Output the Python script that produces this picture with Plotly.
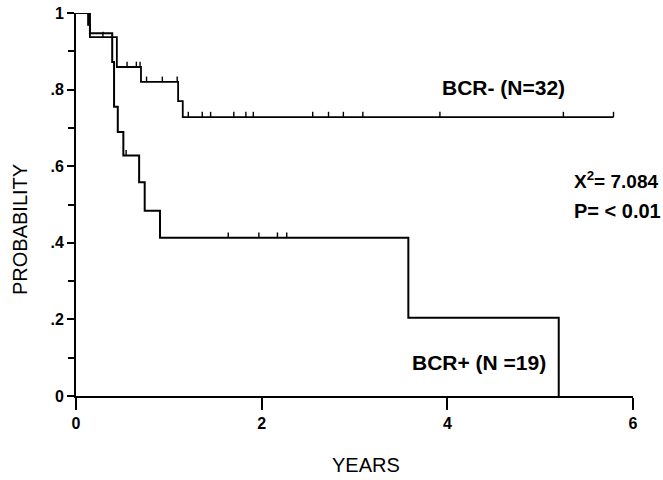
import numpy as np
import plotly.graph_objects as go

# BCR- (N=32) Kaplan-Meier step points
neg_times = [0, 0.13, 0.15, 0.44, 0.70, 1.10, 1.15, 5.79]
neg_surv = [1.0, 0.969, 0.937, 0.859, 0.82, 0.77, 0.728, 0.728]
neg_censor = [0.04, 0.12, 0.29, 0.55, 0.65, 0.69, 0.76, 0.93, 1.09, 1.21, 1.36,
              1.45, 1.70, 1.83, 1.91, 2.55, 2.72, 2.88, 3.09, 3.92, 5.25, 5.79]

# BCR+ (N=19)
pos_times = [0, 0.15, 0.39, 0.41, 0.45, 0.51, 0.68, 0.74, 0.905, 3.58, 5.20]
pos_surv = [1.0, 0.947, 0.872, 0.755, 0.689, 0.628, 0.558, 0.484, 0.413, 0.204, 0.0]
pos_censor = [0.54, 1.64, 1.97, 2.17, 2.27]

x_tickvals = [0, 2, 4, 6]
x_ticktext = ["0", "2", "4", "6"]
y_tickvals = [0, 0.2, 0.4, 0.6, 0.8, 1.0]
y_ticktext = ["0", ".2", ".4", ".6", ".8", "1"]
y_minor = [0.1, 0.3, 0.5, 0.7, 0.9]

FONT = "Liberation Sans, Arial, Helvetica, sans-serif"
TICK_H = 0.014
W, H = 663, 480
ML, MR, MT, MB = 76, 30, 13, 84


def censor_marks(times, surv, cens):
    t = np.array(times)
    xs, ys = [], []
    for c in cens:
        i = np.searchsorted(t, c, side="right") - 1
        s = surv[i]
        xs += [c, c, None]
        ys += [s, s + TICK_H, None]
    return xs, ys


fig = go.Figure()
fig.add_trace(go.Scatter(x=neg_times, y=neg_surv, mode="lines", line_shape="hv",
                         line=dict(color="black", width=1.8), showlegend=False,
                         hoverinfo="skip"))
cx, cy = censor_marks(neg_times, neg_surv, neg_censor)
fig.add_trace(go.Scatter(x=cx, y=cy, mode="lines", line=dict(color="black", width=1.4),
                         showlegend=False, hoverinfo="skip"))
fig.add_trace(go.Scatter(x=pos_times, y=pos_surv, mode="lines", line_shape="hv",
                         line=dict(color="black", width=2), showlegend=False,
                         hoverinfo="skip"))
cx, cy = censor_marks(pos_times, pos_surv, pos_censor)
fig.add_trace(go.Scatter(x=cx, y=cy, mode="lines", line=dict(color="black", width=1.4),
                         showlegend=False, hoverinfo="skip"))

fig.update_layout(
    width=W, height=H,
    margin=dict(l=ML, r=MR, t=MT, b=MB, autoexpand=False),
    plot_bgcolor="white", paper_bgcolor="white",
    font=dict(family=FONT, color="black"),
)
fig.update_xaxes(range=[0, 6], tickvals=x_tickvals, ticktext=x_ticktext,
                 showline=True, linecolor="black", linewidth=2, showgrid=False,
                 zeroline=False, ticks="outside", ticklen=12, tickwidth=2,
                 tickcolor="black", automargin=False,
                 tickfont=dict(family=FONT, size=16, color="black", weight="bold"))
fig.update_yaxes(range=[0, 1], tickvals=y_tickvals, ticktext=y_ticktext,
                 showline=True, linecolor="black", linewidth=2, showgrid=False,
                 zeroline=False, ticks="outside", ticklen=7, tickwidth=2,
                 tickcolor="black", automargin=False,
                 minor=dict(tickvals=y_minor, ticks="outside", ticklen=6,
                            tickwidth=1.5, tickcolor="black"),
                 tickfont=dict(family=FONT, size=16, color="black", weight="bold"))

fig.add_annotation(x=4.6, y=0.806, xref="x", yref="y", text="BCR- (N=32)",
                   showarrow=False, font=dict(size=21, weight="bold"))
fig.add_annotation(x=4.34, y=0.088, xref="x", yref="y", text="BCR+ (N =19)",
                   showarrow=False, font=dict(size=21, weight="bold"))

# pixel-positioned annotations (converted to paper fractions)
pw, ph = W - ML - MR, H - MT - MB


def px(xp):
    return (xp - ML) / pw


def py(yp):
    return (H - yp - MB) / ph


fig.add_annotation(x=px(572), y=py(180), xref="paper", yref="paper",
                   text="X<sup>2</sup>= 7.084",
                   showarrow=False, xanchor="left", yanchor="middle",
                   font=dict(size=19, weight="bold"))
fig.add_annotation(x=px(572), y=py(211), xref="paper", yref="paper", text="P= < 0.01",
                   showarrow=False, xanchor="left", yanchor="middle",
                   font=dict(size=20, weight="bold"))
fig.add_annotation(x=px(20), y=py(230), xref="paper", yref="paper", text="PROBABILITY",
                   showarrow=False, textangle=-90, xanchor="center", yanchor="middle",
                   font=dict(size=20))
fig.add_annotation(x=px(366), y=py(465), xref="paper", yref="paper", text="YEARS",
                   showarrow=False, xanchor="center", yanchor="middle",
                   font=dict(size=20))

fig.write_html("out.html", config={"displayModeBar": False},
               post_script="document.body.style.margin='0';document.body.style.padding='0';")
